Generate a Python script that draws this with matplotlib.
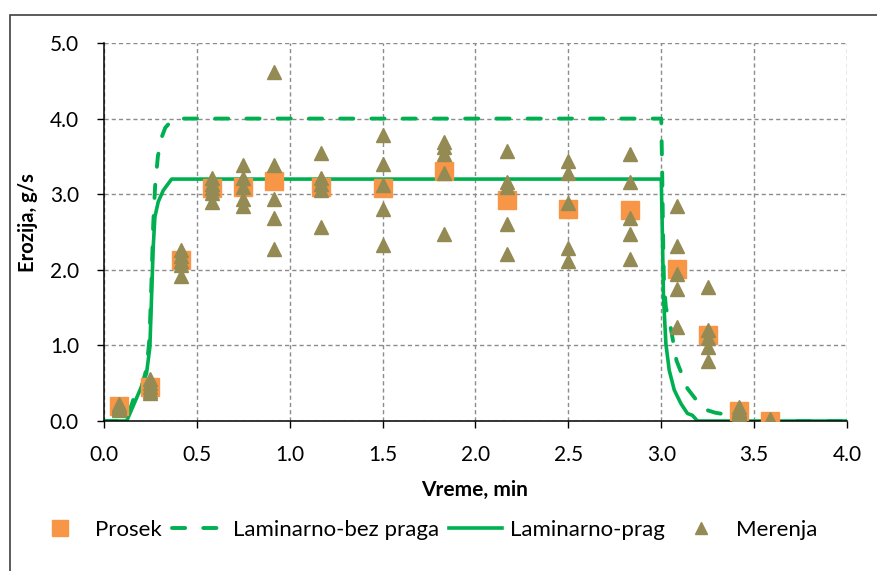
import matplotlib
matplotlib.use("Agg")
import matplotlib.pyplot as plt
from matplotlib.patches import Rectangle
import numpy as np

# ---- data ----
times = [0.083, 0.25, 0.417, 0.583, 0.75, 0.917, 1.167, 1.5, 1.833,
         2.167, 2.5, 2.833, 3.083, 3.25, 3.417, 3.583]
prosek = [0.20, 0.45, 2.13, 3.08, 3.10, 3.18, 3.10, 3.08, 3.31,
          2.92, 2.80, 2.79, 2.01, 1.14, 0.13, 0.0]
merenja = [
    [0.22, 0.20, 0.18, 0.16, 0.15],
    [0.55, 0.50, 0.45, 0.40, 0.37],
    [2.26, 2.18, 2.12, 2.06, 1.92],
    [3.22, 3.14, 3.08, 3.01, 2.90],
    [3.38, 3.21, 3.10, 2.94, 2.84],
    [4.62, 3.38, 2.94, 2.68, 2.28],
    [3.55, 3.22, 3.14, 3.05, 2.56],
    [3.78, 3.40, 3.12, 2.80, 2.33],
    [3.69, 3.62, 3.53, 3.28, 2.48],
    [3.57, 3.16, 3.10, 2.60, 2.21],
    [3.44, 3.28, 2.88, 2.29, 2.12],
    [3.53, 3.16, 2.68, 2.48, 2.14],
    [2.84, 2.31, 1.95, 1.75, 1.24],
    [1.77, 1.21, 1.10, 0.98, 0.79],
    [0.18, 0.15, 0.12, 0.10, 0.08],
    [0.02, 0.01, 0.0, 0.0, 0.0],
]
bez_t = [0, 0.12, 0.16, 0.20, 0.23, 0.245, 0.255, 0.265, 0.275, 0.29, 0.31,
         0.33, 0.36, 0.38, 3.0, 3.005, 3.01, 3.015, 3.025, 3.047, 3.082,
         3.141, 3.226, 3.29, 3.351, 3.365, 4.0]
bez_y = [0, 0, 0.30, 0.43, 0.70, 1.10, 1.80, 2.60, 3.10, 3.50, 3.75,
         3.88, 3.96, 4.00, 4.00, 3.30, 2.40, 1.80, 1.50, 1.29, 0.80,
         0.43, 0.16, 0.11, 0.085, 0.0, 0.0]
prag_t = [0, 0.122, 0.194, 0.229, 0.247, 0.256, 0.265, 0.274, 0.292, 0.319,
          0.346, 0.364, 3.0, 3.006, 3.012, 3.025, 3.043, 3.07, 3.106, 3.141,
          3.168, 3.195, 4.0]
prag_y = [0, 0, 0.41, 0.63, 0.98, 1.64, 2.30, 2.70, 2.90, 3.05,
          3.14, 3.20, 3.20, 2.50, 1.64, 1.02, 0.67, 0.41, 0.23, 0.10,
          0.075, 0.0, 0.0]
xticks = [0.0, 0.5, 1.0, 1.5, 2.0, 2.5, 3.0, 3.5, 4.0]
yticks = [0.0, 1.0, 2.0, 3.0, 4.0, 5.0]

plt.rcParams['font.family'] = ['Lato', 'DejaVu Sans']
plt.rcParams['lines.scale_dashes'] = False

W, H = 878, 571
fig = plt.figure(figsize=(W / 100, H / 100), dpi=100)
ax = fig.add_axes([104 / W, 1 - 421 / H, (847 - 104) / W, (421 - 43) / H])

green = '#00B050'
ax.plot(bez_t, bez_y, color=green, lw=2.8, linestyle=(0, (9.5, 13)),
        dash_capstyle='round', solid_capstyle='round', zorder=2,
        label='Laminarno-bez praga')
ax.plot(prag_t, prag_y, color=green, lw=2.6, zorder=2, label='Laminarno-prag')
ax.plot(times, prosek, ls='none', marker='s', ms=13, color='#F79646',
        mec='#F79646', zorder=3, label='Prosek')
mt = [t for t, vals in zip(times, merenja) for _ in vals]
mv = [v for vals in merenja for v in vals]
ax.plot(mt, mv, ls='none', marker='^', ms=10, color='#948A54',
        mec='#948A54', zorder=4, label='Merenja')

ax.set_xlim(0, 4.0)
ax.set_ylim(0, 5.0)
ax.set_xticks(xticks)
ax.set_yticks(yticks)
ax.set_xticklabels([f"{v:.1f}" for v in xticks])
ax.set_yticklabels([f"{v:.1f}" for v in yticks])
ax.tick_params(axis='both', labelsize=15, length=5, width=1.0, direction='out',
               colors='black')
ax.tick_params(axis='x', pad=12)
ax.tick_params(axis='y', pad=13)
ax.grid(True, color='#8C8C8C', lw=1.0, linestyle=(0, (3, 2.2)))
ax.set_axisbelow(True)
for s in ['top', 'right']:
    ax.spines[s].set_visible(False)
for s in ['left', 'bottom']:
    ax.spines[s].set_linewidth(1.1)
    ax.spines[s].set_color('black')

ax.set_xlabel('Vreme, min', fontsize=15, fontweight='bold', va='center')
ax.xaxis.set_label_coords(0.5 + (475 - 475.5) / 743, (421 - 490) / 378)
ax.set_ylabel('Erozija, g/s', fontsize=14.5, fontweight='bold', va='center')
ax.yaxis.set_label_coords((28.5 - 104) / 743, (421 - 222.5) / 378)

h, l = ax.get_legend_handles_labels()
order = [2, 0, 1, 3]
leg = fig.legend([h[i] for i in order], [l[i] for i in order], loc='center',
                 bbox_to_anchor=(426 / W, 1 - 530 / H), ncol=4, frameon=False,
                 fontsize=16, handlelength=2.35, columnspacing=0.45,
                 handletextpad=0.4, markerscale=0.85)

fig.add_artist(Rectangle((10 / W, -0.1), 1.2, 1 - 15 / H + 0.1,
                         transform=fig.transFigure, fill=False,
                         edgecolor='#404040', lw=1.2))

fig.savefig('out.png', dpi=100)
